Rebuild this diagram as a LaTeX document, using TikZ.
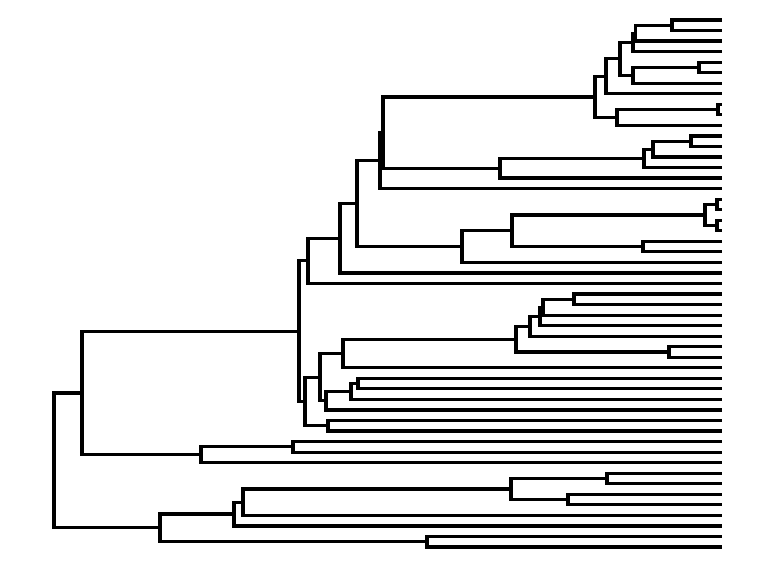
\documentclass[tikz,border=0pt]{standalone}
\usetikzlibrary{calc}
\tikzset{treeline/.style={draw=black,line width=3.2pt,line join=miter,line cap=butt}}
\newcommand\joinn[4]{%
  \path let \p1=(#3), \p2=(#4) in (#2,{0.5*\y1+0.5*\y2}) coordinate (#1);
  \draw[treeline] (#3) -- (#3 -| #1) -- (#4 -| #1) -- (#4);}
\begin{document}
\begin{tikzpicture}[x=1pt,y=1pt]
\useasboundingbox (0,0) rectangle (768,576);
\foreach \i in {0,...,50} \coordinate (l\i) at (721.5,{576-20-10.54*\i});
\joinn{nA}{672}{l0}{l1}
\joinn{nB}{635.5}{nA}{l2}
\joinn{nC}{633}{nB}{l3}
\joinn{nD}{699}{l4}{l5}
\joinn{nE}{633}{nD}{l6}
\joinn{nF}{620}{nC}{nE}
\joinn{nG}{606}{nF}{l7}
\joinn{nHa}{718}{l8}{l9}
\joinn{nH}{617}{nHa}{l10}
\joinn{nI}{595}{nG}{nH}
\joinn{nJ}{691}{l11}{l12}
\joinn{nK}{653}{nJ}{l13}
\joinn{nL}{644}{nK}{l14}
\joinn{nM}{500}{nL}{l15}
\joinn{nN}{383}{nI}{nM}
\joinn{nO}{380}{nN}{l16}
\joinn{nPa}{717}{l17}{l18}
\joinn{nPb}{717}{l19}{l20}
\joinn{nP}{705}{nPa}{nPb}
\joinn{nQ}{643}{l21}{l22}
\joinn{nR}{512}{nP}{nQ}
\joinn{nS}{462}{nR}{l23}
\joinn{nT}{357}{nO}{nS}
\joinn{nU}{340}{nT}{l24}
\joinn{nV}{308}{nU}{l25}
\joinn{nW}{574}{l26}{l27}
\joinn{nX}{543}{nW}{l28}
\joinn{nY}{540}{nX}{l29}
\joinn{nZ}{530}{nY}{l30}
\joinn{nAA}{669}{l31}{l32}
\joinn{nAB}{516}{nZ}{nAA}
\joinn{nAC}{343}{nAB}{l33}
\joinn{nAD}{358}{l34}{l35}
\joinn{nAE}{351}{nAD}{l36}
\joinn{nAF}{326}{nAE}{l37}
\joinn{nAG}{320}{nAC}{nAF}
\joinn{nAH}{328}{l38}{l39}
\joinn{nAI}{305}{nAG}{nAH}
\joinn{nAJ}{299}{nV}{nAI}
\joinn{nAK}{293}{l40}{l41}
\joinn{nAL}{201}{nAK}{l42}
\joinn{nAM}{82}{nAJ}{nAL}
\joinn{nAN}{607}{l43}{l44}
\joinn{nAO}{568}{l45}{l46}
\joinn{nAP}{511}{nAN}{nAO}
\joinn{nAQ}{243}{nAP}{l47}
\joinn{nAR}{234}{nAQ}{l48}
\joinn{nAS}{427}{l49}{l50}
\joinn{nAT}{160}{nAR}{nAS}
\joinn{nRoot}{54}{nAM}{nAT}
\end{tikzpicture}
\end{document}
